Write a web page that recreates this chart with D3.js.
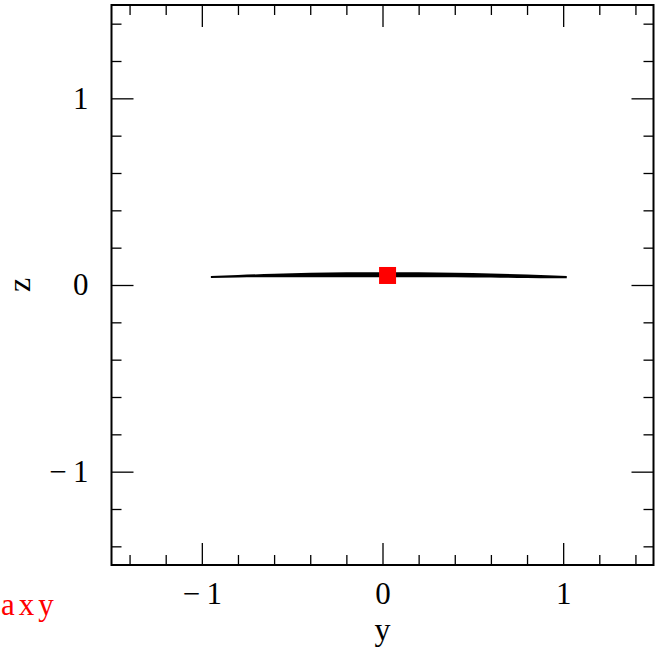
<!DOCTYPE html>
<html>
<head>
<meta charset="utf-8">
<script src="https://cdn.jsdelivr.net/npm/d3@7"></script>
<style>
  body { margin: 0; background: #fff; }
  svg { display: block; }
</style>
</head>
<body>
<div id="chart"></div>
<script>
// data
const majorTicks = [-1, 0, 1];
const minorTicks = [-1.4, -1.2, -0.8, -0.6, -0.4, -0.2, 0.2, 0.4, 0.6, 0.8, 1.2, 1.4];
const bandY = [-0.95, -0.8, -0.6, -0.4, -0.2, 0, 0.2, 0.4, 0.6, 0.8, 0.95, 1.02];
const bandZlo = [0.037, 0.040, 0.042, 0.042, 0.042, 0.042, 0.042, 0.042, 0.040, 0.037, 0.036, 0.036];
const bandZhi = [0.048, 0.054, 0.060, 0.065, 0.068, 0.068, 0.068, 0.065, 0.062, 0.056, 0.051, 0.048];
const centerY = [0.028];
const centerZ = [0.051];

const width = 663, height = 649;
const margin = {left: 111.5, right: 9.5, top: 5, bottom: 84};

const svg = d3.select("#chart")
    .append("svg")
    .attr("width", width)
    .attr("height", height);

const x = d3.scaleLinear().domain([-1.5, 1.5]).range([margin.left, width - margin.right]);
const y = d3.scaleLinear().domain([-1.5, 1.5]).range([height - margin.bottom, margin.top]);

const font = "Liberation Serif";

/*********************************************/
/*              ticks                        */
/*********************************************/
const x0 = x.range()[0], x1 = x.range()[1];
const y0 = y.range()[0], y1 = y.range()[1];

const drawAxis = (axis, tx, ty) => {
    const g = svg.append("g")
        .attr("transform", `translate(${tx},${ty})`)
        .call(axis);
    g.attr("font-family", font).attr("font-size", 31);
    g.select(".domain").remove();
    g.selectAll("line").attr("stroke", "#000").attr("stroke-width", 1.3);
    g.selectAll("text").attr("fill", "#000");
    return g;
};

// minor
drawAxis(d3.axisBottom(x).tickValues(minorTicks).tickSize(-10).tickFormat(""), 0, y0);
drawAxis(d3.axisTop(x).tickValues(minorTicks).tickSize(-10).tickFormat(""), 0, y1);
drawAxis(d3.axisLeft(y).tickValues(minorTicks).tickSize(-10).tickFormat(""), x0, 0);
drawAxis(d3.axisRight(y).tickValues(minorTicks).tickSize(-10).tickFormat(""), x1, 0);

// major
const fmt = d => d < 0 ? "\u2212\u2009" + Math.abs(d) : String(d);
drawAxis(d3.axisBottom(x).tickValues(majorTicks).tickSize(-22).tickPadding(17).tickFormat(fmt), 0, y0);
drawAxis(d3.axisTop(x).tickValues(majorTicks).tickSize(-22).tickFormat(""), 0, y1);
drawAxis(d3.axisLeft(y).tickValues(majorTicks).tickSize(-22).tickPadding(23).tickFormat(fmt), x0, 0);
drawAxis(d3.axisRight(y).tickValues(majorTicks).tickSize(-22).tickFormat(""), x1, 0);

// frame
svg.append("rect")
    .attr("x", x0)
    .attr("y", y1)
    .attr("width", x1 - x0)
    .attr("height", y0 - y1)
    .attr("fill", "none")
    .attr("stroke", "#000")
    .attr("stroke-width", 2);

/*********************************************/
/*              data                         */
/*********************************************/
const band = bandY.map((d, i) => ({y: d, lo: bandZlo[i], hi: bandZhi[i]}));

svg.append("path")
    .datum(band)
    .attr("d", d3.area()
        .x(d => x(d.y))
        .y0(d => y(d.lo))
        .y1(d => y(d.hi))
        .curve(d3.curveMonotoneX))
    .attr("fill", "#000");

svg.selectAll(".center")
    .data(centerY)
    .join("rect")
    .attr("class", "center")
    .attr("x", (d, i) => x(d) - 8.5)
    .attr("y", (d, i) => y(centerZ[i]) - 8.5)
    .attr("width", 17)
    .attr("height", 17)
    .attr("fill", "#ff0000");

/*********************************************/
/*              labels                       */
/*********************************************/
svg.append("text")
    .text("y")
    .attr("x", x(0))
    .attr("y", 640)
    .attr("text-anchor", "middle")
    .attr("font-family", font)
    .attr("font-size", 32);

svg.append("text")
    .text("z")
    .attr("transform", `translate(30, ${y(0)}) rotate(-90)`)
    .attr("text-anchor", "middle")
    .attr("font-family", font)
    .attr("font-size", 32);

svg.append("text")
    .text("axy")
    .attr("x", 1)
    .attr("y", 615)
    .attr("fill", "#ff0000")
    .attr("font-family", font)
    .attr("font-size", 31)
    .attr("letter-spacing", 4);
</script>
</body>
</html>
